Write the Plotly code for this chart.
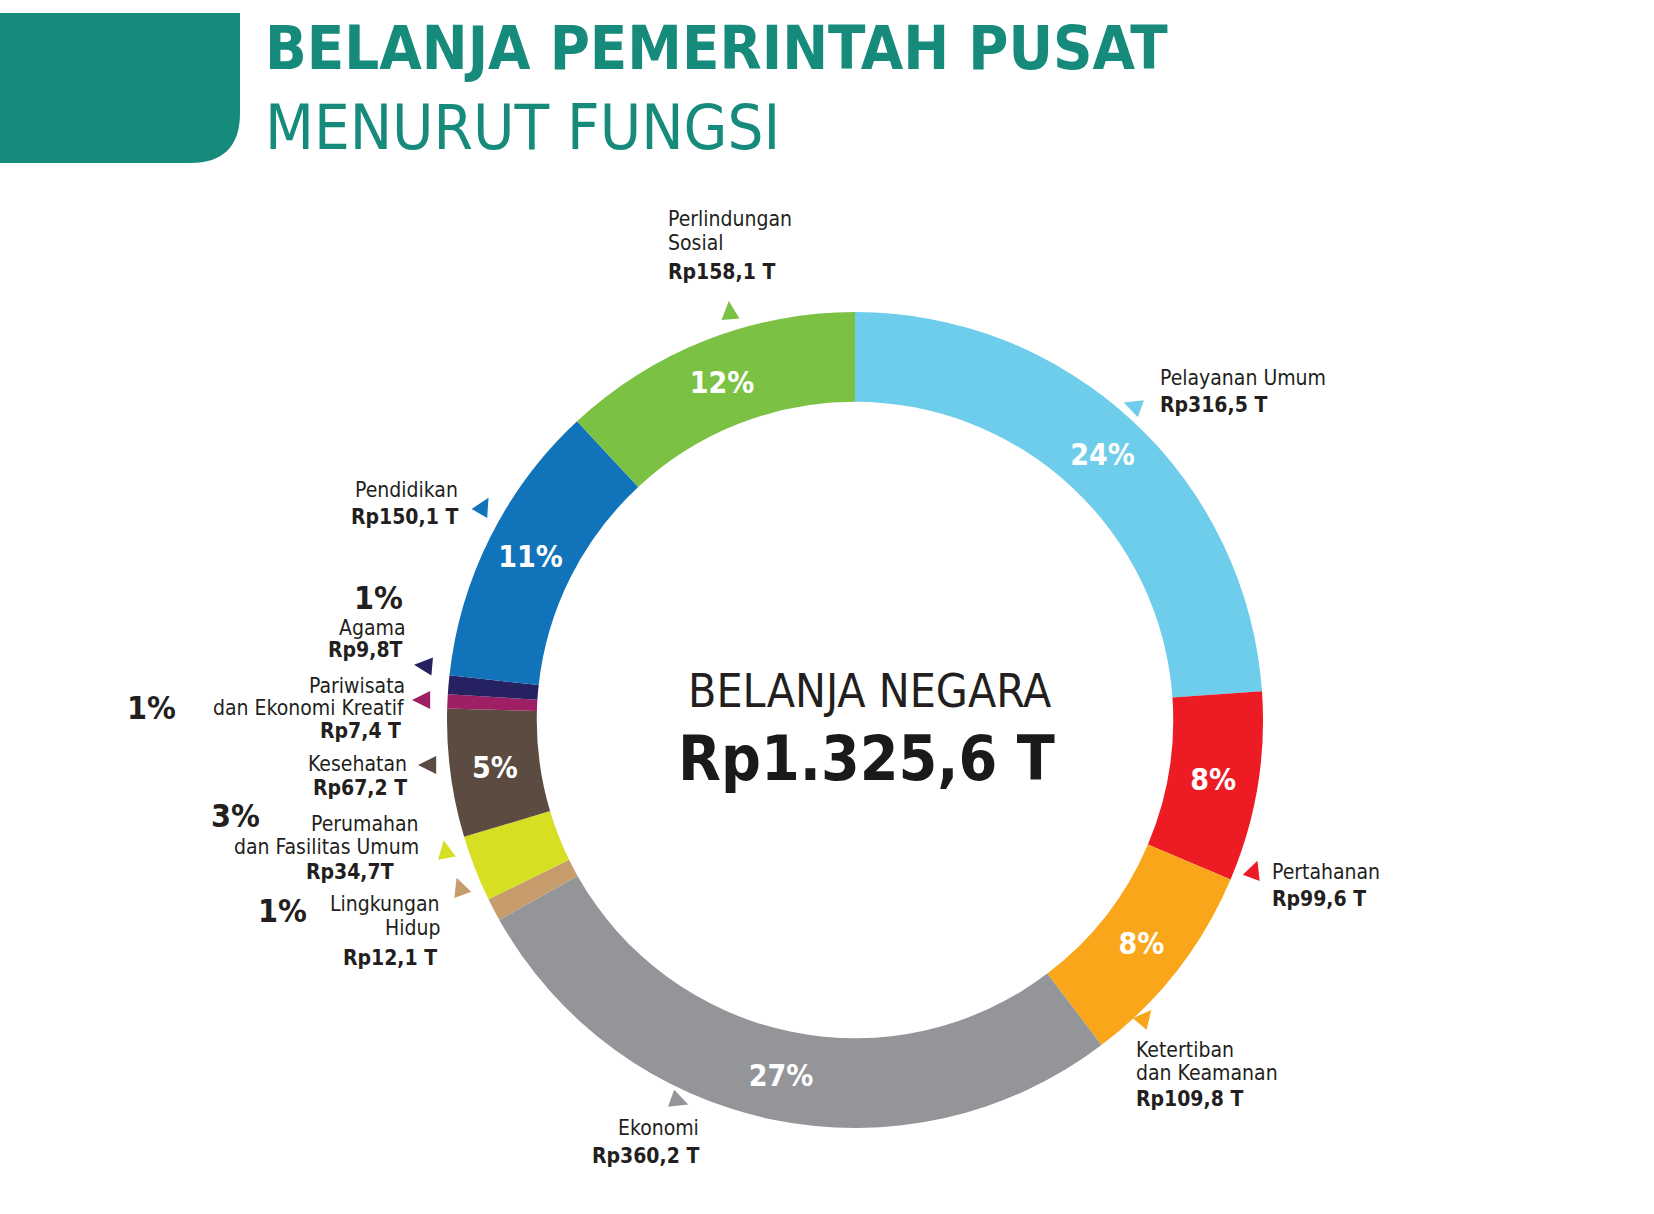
import plotly.graph_objects as go
import math

# ---- data ----
categories = ["Pelayanan Umum", "Pertahanan", "Ketertiban dan Keamanan", "Ekonomi",
              "Lingkungan Hidup", "Perumahan dan Fasilitas Umum", "Kesehatan",
              "Pariwisata dan Ekonomi Kreatif", "Agama", "Pendidikan", "Perlindungan Sosial"]
values = [316.5, 99.6, 109.8, 360.2, 12.1, 34.7, 67.2, 7.4, 9.8, 150.1, 158.1]
pct_labels = ["24%", "8%", "8%", "27%", "", "", "5%", "", "", "11%", "12%"]
value_labels = ["Rp316,5 T", "Rp99,6 T", "Rp109,8 T", "Rp360,2 T", "Rp12,1 T", "Rp34,7T",
                "Rp67,2 T", "Rp7,4 T", "Rp9,8T", "Rp150,1 T", "Rp158,1 T"]
colors = ["#6ECDEA", "#ED1C24", "#F9A61A", "#939598", "#C69C6D", "#D7DF23",
          "#5B4B41", "#9E1F63", "#262262", "#1173B9", "#7BC143"]
total_label = "Rp1.325,6 T"

W, H = 1654, 1214
TEAL = "#168B7B"
NARROW = "DejaVu Sans Condensed, Liberation Sans Narrow, sans-serif"
DARK = "#231F20"

cx, cy, R = 855, 720, 408

fig = go.Figure()
fig.add_trace(go.Pie(
    labels=categories, values=values, text=pct_labels, textinfo="text",
    textposition="inside", insidetextorientation="horizontal",
    textfont=dict(family=NARROW, size=30, color="white", weight="bold"),
    marker=dict(colors=colors, line=dict(width=0)),
    hole=0.78, sort=False, direction="clockwise", rotation=0,
    domain=dict(x=[(cx - R) / W, (cx + R) / W], y=[1 - (cy + R) / H, 1 - (cy - R) / H]),
    showlegend=False, hoverinfo="label+value",
))

shapes = []
# header box with rounded lower-right corner
shapes.append(dict(type="path", xref="x", yref="y",
                   path="M 0 13 L 240 13 L 240 113 Q 240 163 190 163 L 0 163 Z",
                   fillcolor=TEAL, line=dict(width=0)))

def tri(x, y, ang, col, s=13):
    pts = []
    for k in range(3):
        a = math.radians(ang + k * 120)
        r = s if k == 0 else s * 0.8
        pts.append((x + r * math.cos(a), y + r * math.sin(a)))
    p = "M {} {} L {} {} L {} {} Z".format(*[c for pt in pts for c in pt])
    return dict(type="path", xref="x", yref="y", path=p, fillcolor=col, line=dict(width=0))

# triangles: (x, y, apex direction), in category order
tri_pos = [(1136, 407, 200), (1253, 873, -70), (1143, 1020, -50), (676, 1100, 20),
           (461, 890, -110), (446, 853, -100), (431, 765, 180), (425, 700, 180),
           (427, 666, 185), (482, 509, -60), (730, 314, -95)]
for (x, y, a), col in zip(tri_pos, colors):
    shapes.append(tri(x, y, a, col))

ann = []
def txt(x, y, s, size=22, bold=False, anchor="left", color=DARK, family=NARROW):
    ann.append(dict(x=x, y=y, xref="x", yref="y", text=s, showarrow=False,
                    xanchor=anchor, yanchor="middle", borderpad=0,
                    font=dict(family=family, size=size, color=color,
                              weight="bold" if bold else "normal")))

# titles
txt(264, 47, "BELANJA PEMERINTAH PUSAT", 61, True, color=TEAL)
txt(264, 127, "MENURUT FUNGSI", 63, False, color=TEAL)

# center
txt(869, 691, "BELANJA NEGARA", 46, anchor="center")
txt(866, 758, total_label, 62, True, "center", color="#1A1A1A")

# labels
txt(667, 219, "Perlindungan", 21); txt(667, 243, "Sosial", 21)
txt(667, 272, value_labels[10], 21, True)

txt(1159, 378, "Pelayanan Umum", 21); txt(1159, 405, value_labels[0], 21, True)

txt(459, 490, "Pendidikan", 21, anchor="right"); txt(459, 517, value_labels[9], 21, True, "right")

txt(404, 598, "1%", 32, True, "right")
txt(406, 628, "Agama", 21, anchor="right"); txt(404, 650, value_labels[8], 21, True, "right")

txt(406, 686, "Pariwisata", 21, anchor="right")
txt(406, 708, "dan Ekonomi Kreatif", 21, anchor="right")
txt(402, 731, value_labels[7], 21, True, "right")
txt(151, 708, "1%", 32, True, "center")

txt(408, 764, "Kesehatan", 21, anchor="right"); txt(408, 788, value_labels[6], 21, True, "right")

txt(235, 816, "3%", 32, True, "center")
txt(420, 824, "Perumahan", 21, anchor="right")
txt(420, 847, "dan Fasilitas Umum", 21, anchor="right")
txt(395, 872, value_labels[5], 21, True, "right")

txt(282, 911, "1%", 32, True, "center")
txt(441, 904, "Lingkungan", 21, anchor="right"); txt(441, 928, "Hidup", 21, anchor="right")
txt(438, 958, value_labels[4], 21, True, "right")

txt(1271, 872, "Pertahanan", 21); txt(1271, 899, value_labels[1], 21, True)

txt(1135, 1050, "Ketertiban", 21); txt(1135, 1073, "dan Keamanan", 21)
txt(1135, 1099, value_labels[2], 21, True)

txt(700, 1128, "Ekonomi", 21, anchor="right"); txt(700, 1156, value_labels[3], 21, True, "right")

fig.update_layout(
    width=W, height=H, margin=dict(l=0, r=0, t=0, b=0),
    paper_bgcolor="white", plot_bgcolor="rgba(0,0,0,0)",
    xaxis=dict(range=[0, W], visible=False, domain=[0, 1], fixedrange=True),
    yaxis=dict(range=[H, 0], visible=False, domain=[0, 1], fixedrange=True),
    shapes=shapes, annotations=ann,
)
fig.write_html("out.html", config={"displayModeBar": False},
               post_script="document.body.style.margin='0';")
